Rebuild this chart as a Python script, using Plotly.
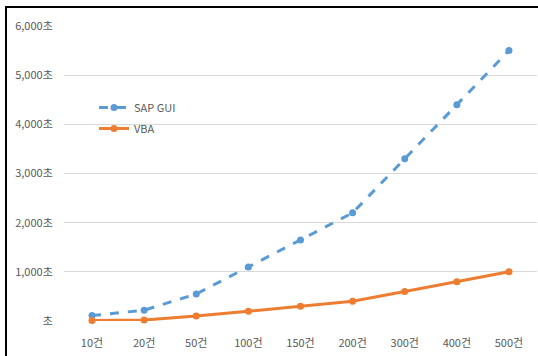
import plotly.graph_objects as go

categories = ["10건", "20건", "50건", "100건", "150건", "200건", "300건", "400건", "500건"]
sap_gui = [110, 220, 550, 1100, 1650, 2200, 3300, 4400, 5500]
vba = [10, 20, 100, 200, 300, 400, 600, 800, 1000]
y_tickvals = [0, 1000, 2000, 3000, 4000, 5000, 6000]
y_ticktext = ["초", "1,000초", "2,000초", "3,000초", "4,000초", "5,000초", "6,000초"]

W, H = 538, 356
L, R, T, B = 64, 1, 26, 35
pw, ph = W - L - R, H - T - B

fig = go.Figure()
fig.add_trace(go.Scatter(
    x=categories, y=sap_gui, name="SAP GUI", mode="lines+markers", legendgroup="a",
    line=dict(color="#5B9BD5", width=3, dash="dash"),
    marker=dict(color="#5B9BD5", size=7), cliponaxis=False))
fig.add_trace(go.Scatter(
    x=categories, y=vba, name="VBA", mode="lines+markers", legendgroup="b",
    line=dict(color="#ED7D31", width=3),
    marker=dict(color="#ED7D31", size=7), cliponaxis=False))

def px_x(p):
    return (p - L) / pw

def px_y(p):
    return (H - B - p) / ph

fig.update_layout(
    width=W, height=H,
    margin=dict(l=L, r=R, t=T, b=B),
    paper_bgcolor="white", plot_bgcolor="white",
    font=dict(family="Noto Sans CJK KR, Noto Sans, sans-serif", size=11, color="#595959"),
    xaxis=dict(showgrid=False, showline=False, zeroline=False,
               ticks="outside", ticklen=12, tickcolor="rgba(0,0,0,0)",
               tickfont=dict(size=11, color="#595959")),
    yaxis=dict(range=[0, 6000], tickvals=y_tickvals, ticktext=y_ticktext,
               showgrid=True, gridcolor="#D9D9D9", gridwidth=1, zeroline=False,
               ticks="outside", ticklen=8, tickcolor="rgba(0,0,0,0)",
               tickfont=dict(size=11, color="#595959")),
    legend=dict(x=px_x(94), y=px_y(93), xanchor="left", yanchor="top",
                bgcolor="rgba(0,0,0,0)", font=dict(size=11, color="#595959"),
                itemwidth=30, tracegroupgap=2),
    showlegend=True,
    shapes=[
        dict(type="line", xref="paper", yref="paper", x0=px_x(6), x1=px_x(6),
             y0=px_y(7), y1=px_y(360), line=dict(color="black", width=2)),
        dict(type="line", xref="paper", yref="paper", x0=px_x(5), x1=px_x(540),
             y0=px_y(7), y1=px_y(7), line=dict(color="black", width=2)),
    ],
)

fig.write_html("out.html")
